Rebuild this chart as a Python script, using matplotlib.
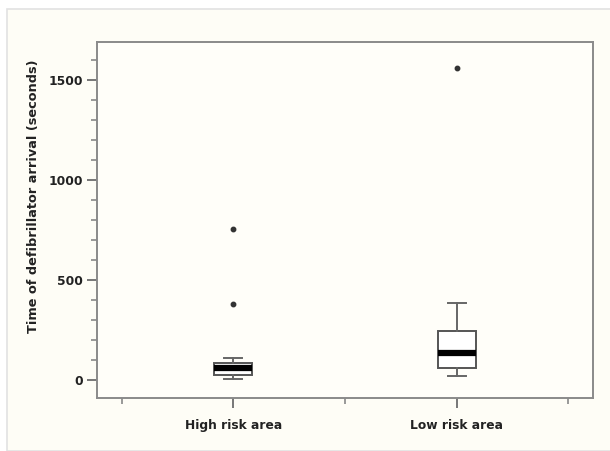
import matplotlib.pyplot as plt
from matplotlib.patches import Rectangle
from matplotlib.ticker import MultipleLocator

# Box statistics (seconds)
groups = ['High risk area', 'Low risk area']
whislo = [5, 18]
q1 = [25, 60]
med = [60, 135]
q3 = [85, 245]
whishi = [110, 385]
fliers = [[380, 755], [1560]]

stats = []
for i in range(len(groups)):
    stats.append(dict(label=groups[i], whislo=whislo[i], q1=q1[i], med=med[i],
                      q3=q3[i], whishi=whishi[i], fliers=fliers[i]))

fig = plt.figure(figsize=(6.1, 4.51), dpi=100, facecolor='white')
# cream panel behind the plot with a faint gray frame
fig.patches.append(Rectangle((7 / 610, 0), 1, 1 - 9 / 451, transform=fig.transFigure,
                             facecolor='#fefdf6', edgecolor='#e2e2e2', lw=1.2, zorder=-1))

ax = fig.add_axes([97 / 610, 53 / 451, 496 / 610, 356 / 451])
ax.set_facecolor('#fffef9')

ax.bxp(stats, positions=[1, 2], widths=0.17, capwidths=0.08, patch_artist=True,
       boxprops=dict(facecolor='white', edgecolor='#555555', linewidth=1.4),
       whiskerprops=dict(color='#666666', linewidth=1.4),
       capprops=dict(color='#666666', linewidth=1.4),
       medianprops=dict(color='black', linewidth=4.5, solid_capstyle='butt'),
       flierprops=dict(marker='o', markersize=3.2, markerfacecolor='#333333',
                       markeredgecolor='#333333'))

ax.set_xlim(0.39, 2.61)
ax.set_ylim(-90, 1690)
ax.set_xticks([1, 2])
ax.set_xticklabels(groups)
ax.xaxis.set_minor_locator(plt.FixedLocator([0.5, 1.5, 2.5]))
ax.yaxis.set_major_locator(MultipleLocator(500))
ax.yaxis.set_minor_locator(MultipleLocator(100))

for s in ax.spines.values():
    s.set_color('#8a8a8a')
    s.set_linewidth(1.4)

ax.tick_params(which='major', direction='out', length=7, width=1.4, color='#777777',
               labelsize=8.8, pad=3)
ax.tick_params(which='minor', direction='out', length=4, width=1.2, color='#888888')
for lab in ax.get_xticklabels() + ax.get_yticklabels():
    lab.set_fontweight('bold')
    lab.set_color('#222222')
ax.tick_params(axis='x', pad=8)

ax.set_ylabel('Time of defibrillator arrival (seconds)', fontsize=9.3, fontweight='bold',
              color='#222222')
ax.yaxis.set_label_coords(-0.115, 0.567)

fig.savefig('out.png', dpi=100, facecolor=fig.get_facecolor())
